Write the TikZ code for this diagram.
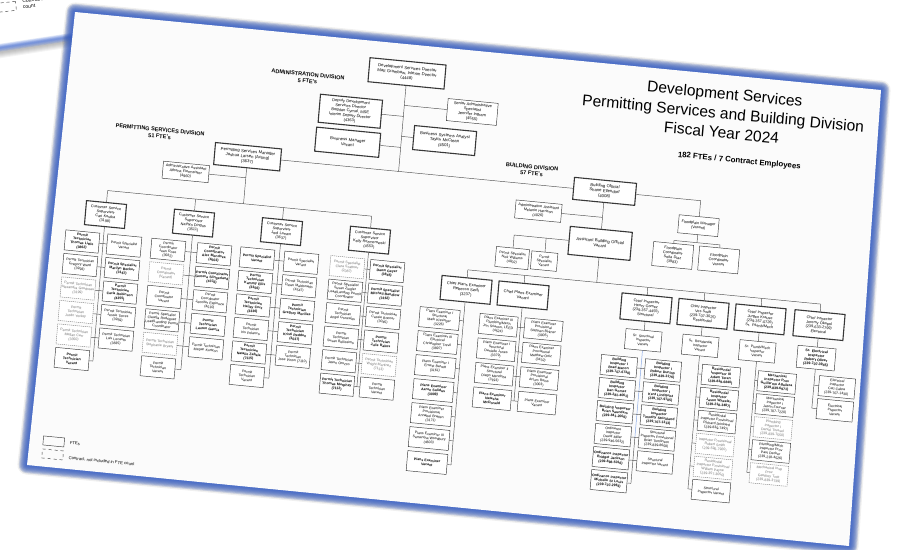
\documentclass[tikz,border=0pt]{standalone}
\usepackage{fontspec}
\setmainfont{Liberation Sans}
\definecolor{glowblue}{HTML}{3A66D6}
\definecolor{boxc}{HTML}{383838}
\definecolor{linec}{HTML}{505050}
\definecolor{pagec}{HTML}{FBFBFB}
\definecolor{lineblue}{HTML}{8AAAE6}
\newcommand\pcol[7]{%
  \foreach \s/\t [count=\k] in {#7} {%
    \node[bx,\s,text width=#6pt,minimum height=20pt] (#1\k) at (#2,{#4+#5*(\k-1)}) {\t};
    \draw[ln] (#3,{#4+#5*(\k-1)}) -- (#1\k);
  }}
\begin{document}
\begin{tikzpicture}[x=1pt,y=-1pt,
  ln/.style={draw=linec,line width=0.45pt},
  bx/.style={draw=boxc,line width=0.45pt,fill=white,align=center,inner xsep=0pt,inner ysep=0.4pt,transform shape,font=\fontsize{3.5}{4.1}\selectfont},
  tk/.style={line width=1.1pt},
  pn/.style={},
  pb/.style={font=\fontsize{3.5}{4.1}\selectfont\bfseries},
  pd/.style={draw=black!50,dash pattern=on 1.2pt off 0.8pt,text=black!55},
  lbl/.style={transform shape,align=center,inner sep=0pt},
]
\useasboundingbox (0,0) rectangle (897,549);
\fill[white] (0,0) rectangle (897,549);
% background page
\foreach \i in {1,...,6} \draw[black,opacity=0.045,line width=\i*2pt] (-5,53) -- (110,35);
\foreach \i in {1,...,6} \draw[glowblue,opacity=0.15,line width=\i*1.3pt] (-5,48.5) -- (110,31);
\node[draw=boxc,dashed,line width=0.45pt,rotate=6,minimum width=22pt,minimum height=9pt] (bgd) at (5,7) {};
\node[rotate=6,anchor=north west,align=left,font=\fontsize{5}{6}\selectfont,inner sep=0pt] (bgt) at (22,-1) {Contract, not included in FTE\\count};
% main page
\coordinate (PA) at (75,12);
\coordinate (PB) at (881,90);
\coordinate (PC) at (849,546);
\coordinate (PD) at (27,465);
\foreach \i in {1,...,8} \draw[black,opacity=0.06,line width=\i*2.4pt,line join=round,shift={(3,7)}] (PA) -- (PB) -- (PC) -- (PD) -- cycle;
\foreach \i in {1,...,9} \draw[glowblue,opacity=0.16,line width=\i*1.8pt,line join=round] (PA) -- (PB) -- (PC) -- (PD) -- cycle;
\fill[pagec] (PA) -- (PB) -- (PC) -- (PD) -- cycle;
\begin{scope}[cm={1,-0.097,0.0859,1,(70.5,11.5)}]
% titles
\node[lbl,font=\fontsize{15.5}{19.5}\selectfont] (title) at (656,38) {Development Services\\Permitting Services and Building Division\\Fiscal Year 2024};
\node[lbl,font=\fontsize{7.8}{9}\selectfont\bfseries] (fte) at (676,84) {182 FTEs / 7 Contract Employees};
\node[lbl,font=\fontsize{5.5}{6.5}\selectfont\bfseries] (adl) at (241,43) {ADMINISTRATION DIVISION\\5 FTE's};
\node[lbl,font=\fontsize{5.5}{6.5}\selectfont\bfseries] (psl) at (99,112) {PERMITTING SERVICES DIVISION\\51 FTE's};
\node[lbl,font=\fontsize{5.5}{6.5}\selectfont\bfseries] (bdl) at (471,113) {BUILDING DIVISION\\57 FTE's};
% administration
\node[bx,tk,text width=76pt,minimum height=24pt,font=\fontsize{4.2}{5}\selectfont] (dsd) at (339,29) {Development Services Director\\Matt Grambow, Interim Director\\(4448)};
\node[bx,tk,text width=62pt,minimum height=28pt,font=\fontsize{4}{4.7}\selectfont] (ddsd) at (286,72) {Deputy Development\\Services Director\\Bogdan Cymal, MSE\\Interim Deputy Director\\(4363)};
\node[bx,tk,text width=64pt,minimum height=24pt,font=\fontsize{4.2}{5}\selectfont] (bm) at (286,103) {Business Manager\\Vacant};
\node[bx,text width=50pt,minimum height=22pt,font=\fontsize{4}{4.7}\selectfont] (saa) at (407,61) {Senior Administrative\\Specialist\\Jennifer Ingram\\(4555)};
\node[bx,tk,text width=62pt,minimum height=24pt,font=\fontsize{4.2}{5}\selectfont] (bsa) at (382,92) {Business Systems Analyst\\Taylor McClean\\(4501)};
\draw[ln] (dsd) -- (339,127);
\draw[ln] (339,72) -- (ddsd);
\draw[ln] (339,61) -- (saa);
\draw[ln] (339,103) -- (bm);
\draw[ln] (339,92) -- (bsa);
% permitting
\node[bx,tk,text width=66pt,minimum height=22pt,font=\fontsize{4.2}{5}\selectfont] (psm) at (188,127) {Permitting Services Manager\\Joshua Larsen (Acting)\\(3637)};
\node[bx,text width=46pt,minimum height=17pt,font=\fontsize{3.8}{4.4}\selectfont] (aa1) at (128,148) {Administrative Assistant\\Athena Fiermeister\\(4960)};
\draw[ln] (psm) -- (188,174);
\draw[ln] (188,148) -- (aa1);
\draw[ln] (52,174) -- (316,174);
\node[bx,tk,text width=40pt,minimum height=24pt,font=\fontsize{3.8}{4.4}\selectfont] (s1) at (52,198) {Customer Service\\Supervisor\\Cari Kostka\\(3198)};
\node[bx,tk,text width=40pt,minimum height=24pt,font=\fontsize{3.8}{4.4}\selectfont] (s2) at (140,198) {Customer Service\\Supervisor\\Nathyo Dingus\\(3511)};
\node[bx,tk,text width=40pt,minimum height=24pt,font=\fontsize{3.8}{4.4}\selectfont] (s3) at (228,198) {Customer Service\\Supervisor\\Jodi Larsen\\(3637)};
\node[bx,tk,text width=40pt,minimum height=24pt,font=\fontsize{3.8}{4.4}\selectfont] (s4) at (316,198) {Customer Service\\Supervisor\\Kelly Rezmerowski\\(4553)};
\foreach \n/\u in {s1/52,s2/140,s3/228,s4/316} \draw[ln] (\u,174) -- (\n);
\draw[ln] (s1) -- (52,344.5);
\draw[ln] (s2) -- (140,344.5);
\draw[ln] (s3) -- (228,344.5);
\draw[ln] (s4) -- (316,344.5);
\pcol{sa}{31}{52}{227}{23.5}{34}{pb/{Permit\\Technician\\Thomas Little\\(3862)},pn/{Permit Technician\\Gregory Ward\\(3993)},pd/{Permit Technician\\Alexandra Goodreau\\(3199)},pd/{Permit\\Technician\\Justin Yorkey},pd/{Permit Technician\\Megan Carr\\(3350)},pb/{Permit\\Technician\\Vacant}}
\pcol{sb}{73}{52}{227}{23.5}{34}{pn/{Permit Specialist\\Vacant},pb/{Permit Specialist\\Marilyn Becker\\(3167)},pb/{Permit\\Technician\\Carla Robinson\\(4355)},pn/{Permit Technician\\Jessie Torres\\(3959)},pn/{Permit Technician\\Luis Lecanto\\(3835)}}
\pcol{sc}{117}{140}{227}{23.5}{34}{pn/{Permit\\Coordinator\\Jean Rose\\(3582)},pd/{Permit\\Coordinator\\(Vacant)},pn/{Permit\\Coordinator\\Vacant},pn/{Permit Specialist\\Claudia Rodriguez\\Lead/Landing Permit\\Coordinator},pd/{Permit Technician\\Stephanie Bryant},pn/{Permit\\Technician\\Vacant}}
\pcol{sd}{163}{140}{227}{23.5}{34}{pb/{Permit\\Coordinator\\Alex Mendoza\\(4503)},pb/{Permit Coordinator\\Geneva Slingerland\\(4376)},pn/{Permit\\Coordinator\\Jennifer Espinoza\\(4510)},pb/{Permit\\Technician\\Lauren Garcia},pn/{Permit Technician\\Megan Kurtzon}}
\pcol{se}{206}{228}{227}{23.5}{34}{pb/{Permit Specialist\\Vacant},pb/{Permit\\Technician\\Kammy Ellis\\(3356)},pb/{Permit\\Technician\\Hailey Cruz\\(3336)},pn/{Permit\\Technician\\Iris Polanco},pb/{Permit\\Technician\\Natalie Zabala\\(7115)},pn/{Permit\\Technician\\Vacant}}
\pcol{sf}{250}{228}{227}{23.5}{34}{pn/{Permit Specialist\\Vacant},pn/{Permit Technician\\Dawn Maldonado\\(4547)},pb/{Permit\\Technician\\Gregory Morillas},pb/{Permit\\Technician\\Kristi Redden\\(3037)},pn/{Permit\\Technician\\Jose Pinon (7110)}}
\pcol{sg}{296}{316}{227}{23.5}{34}{pd/{Permit Specialist\\Clara Scattner\\(2087)},pn/{Permit Specialist\\Susan Ziegler\\Lead/Landing Permit\\Coordinator},pn/{Permit\\Technician\\Angel Gonzales},pn/{Permit\\Technician\\Susan Bellissimo},pn/{Permit Technician\\Jason Orozco},pb/{Permit Technician\\Thomas Murphey\\(7112)}}
\pcol{sh}{336}{316}{227}{23.5}{34}{pb/{Permit Specialist\\Dawn Geyer\\(3845)},pb/{Permit Specialist\\Mitchell Bandlow\\(3162)},pn/{Permit Technician\\Cassie Bonner\\(3045)},pb/{Permit\\Technician\\Julie Rakos},pd/{Permit Technician\\Wright Martinez\\(7113)},pn/{Permit\\Technician\\Vacant}}
% building
\node[bx,tk,text width=62pt,minimum height=22pt,font=\fontsize{4.2}{5}\selectfont] (bo) at (545,127) {Building Official\\Shane Ellendorf\\(4008)};
\draw[ln] (psm) -- (bo);
\node[bx,text width=46pt,minimum height=18pt,font=\fontsize{3.8}{4.4}\selectfont] (aa2) at (481,153) {Administrative Assistant\\Melanie Harrison\\(4026)};
\node[bx,tk,text width=62pt,minimum height=28pt,font=\fontsize{4.2}{5}\selectfont] (abo) at (545,179) {Assistant Building Official\\Vacant};
\draw[ln] (bo) -- (abo);
\draw[ln] (545,153) -- (aa2);
\node[bx,text width=40pt,minimum height=18pt,font=\fontsize{3.8}{4.4}\selectfont] (fm) at (641,152) {Floodplain Manager\\(Vacant)};
\draw[ln] (bo) -- (641,127) -- (fm);
\node[bx,text width=40pt,minimum height=24pt,font=\fontsize{3.8}{4.4}\selectfont] (fc1) at (618,184) {Floodplain\\Coordinator\\Sofia Diaz\\(3983)};
\node[bx,text width=40pt,minimum height=24pt,font=\fontsize{3.8}{4.4}\selectfont] (fc2) at (664,184) {Floodplain\\Coordinator\\Vacant};
\draw[ln] (fm) -- (641,169);
\draw[ln] (618,169) -- (664,169);
\draw[ln] (618,169) -- (fc1);
\draw[ln] (664,169) -- (fc2);
\node[bx,text width=33pt,minimum height=20pt] (ps1) at (459,202) {Permit Specialist\\Nick Williams\\(4002)};
\node[bx,text width=26pt,minimum height=18pt] (ps2) at (491,202) {Permit Specialist\\Vacant};
\draw[ln] (abo) -- (459,179) -- (ps1);
\draw[ln] (491,179) -- (ps2);
\draw[ln] (abo) -- (545,218);
\draw[ln] (416,218) -- (769,218);
\node[bx,tk,text width=50pt,minimum height=24pt,font=\fontsize{4}{4.7}\selectfont] (cpe1) at (416,238) {Chief Plans Examiner\\Rebecca Swift\\(3237)};
\node[bx,tk,text width=50pt,minimum height=24pt,font=\fontsize{4}{4.7}\selectfont] (cpe2) at (473,238) {Chief Plans Examiner\\Vacant};
\node[bx,tk,text width=50pt,minimum height=26pt,font=\fontsize{3.8}{4.4}\selectfont] (ci1) at (596,239) {Chief Inspector\\Henry Gomez\\(239-357-4455)\\Structural};
\node[bx,tk,text width=50pt,minimum height=26pt,font=\fontsize{3.8}{4.4}\selectfont] (ci2) at (653,239) {Chief Inspector\\Ves Swift\\(239-707-3025)\\Residential};
\node[bx,tk,text width=50pt,minimum height=26pt,font=\fontsize{3.8}{4.4}\selectfont] (ci3) at (710,239) {Chief Inspector\\Jurgen Krause\\(239-357-0726)\\Sr. Plumb/Mech};
\node[bx,tk,text width=50pt,minimum height=26pt,font=\fontsize{3.8}{4.4}\selectfont] (ci4) at (769,239) {Chief Inspector\\Jeremy Okapol\\(239-633-2799)\\Electrical};
\foreach \n/\u in {cpe1/416,cpe2/473,ci1/596,ci2/653,ci3/710,ci4/769} \draw[ln] (\u,218) -- (\n);
% plans examiners
\draw[ln] (cpe1) -- (416,413);
\pcol{pa}{392}{416}{269}{24}{40}{pn/{Plans Examiner I\\Structural\\Mark Kissinger\\(3226)},pn/{Plans Examiner III\\Electrical\\Christopher Trevil\\(3897)},pn/{Plans Examiner I\\Ernest Barrett\\(3161)},pb/{Plans Examiner\\Aaron Sulidus\\(3009)},pn/{Plans Examiner\\Provisional\\Annabel Bratten\\(3171)},pn/{Plans Examiner III\\Samantha Woodbury\\(4603)},pb/{Plans Examiner\\Vacant}}
\draw[ln] (cpe2) -- (473,343.5);
\pcol{pb}{451}{473}{270}{24.5}{38}{pn/{Plans Examiner III\\Plumbing/Mech\\Jon Srianon, LEED\\(4524)},pn/{Plans Examiner I\\Structural\\Danielle Jones\\(3379)},pn/{Plans Examiner II\\Structural\\Diego Mendoza\\(3193)},pb/{Plans Examiner\\Natasha\\McDonald}}
\pcol{pc}{496}{473}{270}{24.5}{38}{pn/{Plans Examiner\\Provisional\\Stephen Birkner\\(3005)},pn/{Plans Examiner\\Provisional\\Matthew Ortiz\\(3432)},pn/{Plans Examiner\\Provisional\\Arturo Reiss\\(3003)},pn/{Plans Examiner\\Vacant}}
% inspectors
\node[bx,text width=36pt,minimum height=20pt] (ssi) at (596,271) {Sr. Structural\\Inspector\\Vacant};
\draw[ln] (ci1) -- (ssi);
\draw[draw=lineblue,line width=0.5pt] (ssi) -- (596,368);
\draw[ln] (596,368) -- (596,414);
\pcol{ia}{574}{596}{299}{23}{36}{pb/{Building\\Inspector I\\Brad Macon\\(239-707-6730)},pb/{Building\\Inspector\\Dan Gomez\\(239-281-4061)},pb/{Building Inspector\\Brian Saunders\\(239-841-2006)},pn/{Ordinance\\Inspector\\David Miller\\(239-946-5632)},pb/{Ordinance Inspector\\Bridget Jackson\\(239-898-5016)},pb/{Ordinance Inspector\\Michelle St Louis\\(239-707-2963)}}
\pcol{ib}{618}{596}{299}{23}{36}{pb/{Building\\Inspector I\\Robert Dunlop\\(239-839-3176)},pb/{Building\\Inspector I\\Kent Lindquist\\(239-707-9705)},pb/{Building\\Inspector\\Timothy Strickland\\(239-707-1313)},pn/{Structural\\Inspector Provisional\\Brian Tomlinson\\(239-839-8658)},pn/{Structural\\Inspector Vacant}}
\node[bx,text width=36pt,minimum height=20pt] (sri) at (653,271) {Sr. Residential\\Inspector\\Vacant};
\draw[ln] (ci2) -- (sri);
\draw[ln] (sri) -- (653,414);
\pcol{ic}{676}{653}{299}{23}{38}{pb/{Residential\\Inspector III\\Adam Teran\\(239-839-6840)},pb/{Residential\\Inspector\\Jason Wheeler\\(239-218-3487)},pn/{Residential\\Inspector Provisional\\Richard Drinkard\\(239-839-7497)},pd/{Inspector Provisional\\Robert Smith\\(239-596-7920)},pd/{Residential\\Inspector Provisional\\William Payne\\(239-357-3050)},pn/{Structural\\Inspector Vacant}}
\node[bx,text width=36pt,minimum height=20pt] (spm) at (710,271) {Sr. Plumb/Mech\\Inspector\\Vacant};
\draw[ln] (ci3) -- (spm);
\draw[ln] (spm) -- (710,392);
\pcol{id}{732}{710}{300}{23}{38}{pb/{Mechanical\\Inspector Prov\\Guillermo Aguilera\\(239-839-6971)},pn/{Mechanical\\Inspector I\\Jason Fourner\\(239-707-7220)},pd/{Plumbing\\Inspector I\\Daniel Truesel\\(239-839-7550)},pn/{Plumbing/Mech\\Inspector Prov\\Paul Decker\\(239-218-4526)},pd/{Mechanical Insp\\Prov\\Geoffrey Trott\\(239-839-3739)}}
\node[bx,text width=38pt,minimum height=22pt,font=\fontsize{3.6}{4.2}\selectfont\bfseries] (sei) at (769,272) {Sr. Electrical\\Inspector\\Robert Oliver\\(239-707-3945)};
\draw[ln] (ci4) -- (sei);
\draw[ln] (sei) -- (769,322);
\pcol{ie}{792}{769}{299}{23}{36}{pn/{Electrical\\Inspector\\Carl Cabra\\(239-707-1430)},pn/{Electrical\\Inspector\\Vacant}}
% legend
\node[draw=boxc,line width=0.45pt,transform shape,minimum width=21pt,minimum height=9pt,inner sep=0pt] (lg1) at (20,428) {};
\node[lbl,anchor=west,font=\fontsize{4.2}{5}\selectfont] (lt1) at (36,428) {FTEs};
\node[draw=boxc,dashed,line width=0.45pt,transform shape,minimum width=21pt,minimum height=9pt,inner sep=0pt] (lg2) at (20,441) {};
\node[lbl,anchor=west,font=\fontsize{4.2}{5}\selectfont] (lt2) at (36,443) {Contract, not included in FTE count};
\end{scope}
\end{tikzpicture}
\end{document}
